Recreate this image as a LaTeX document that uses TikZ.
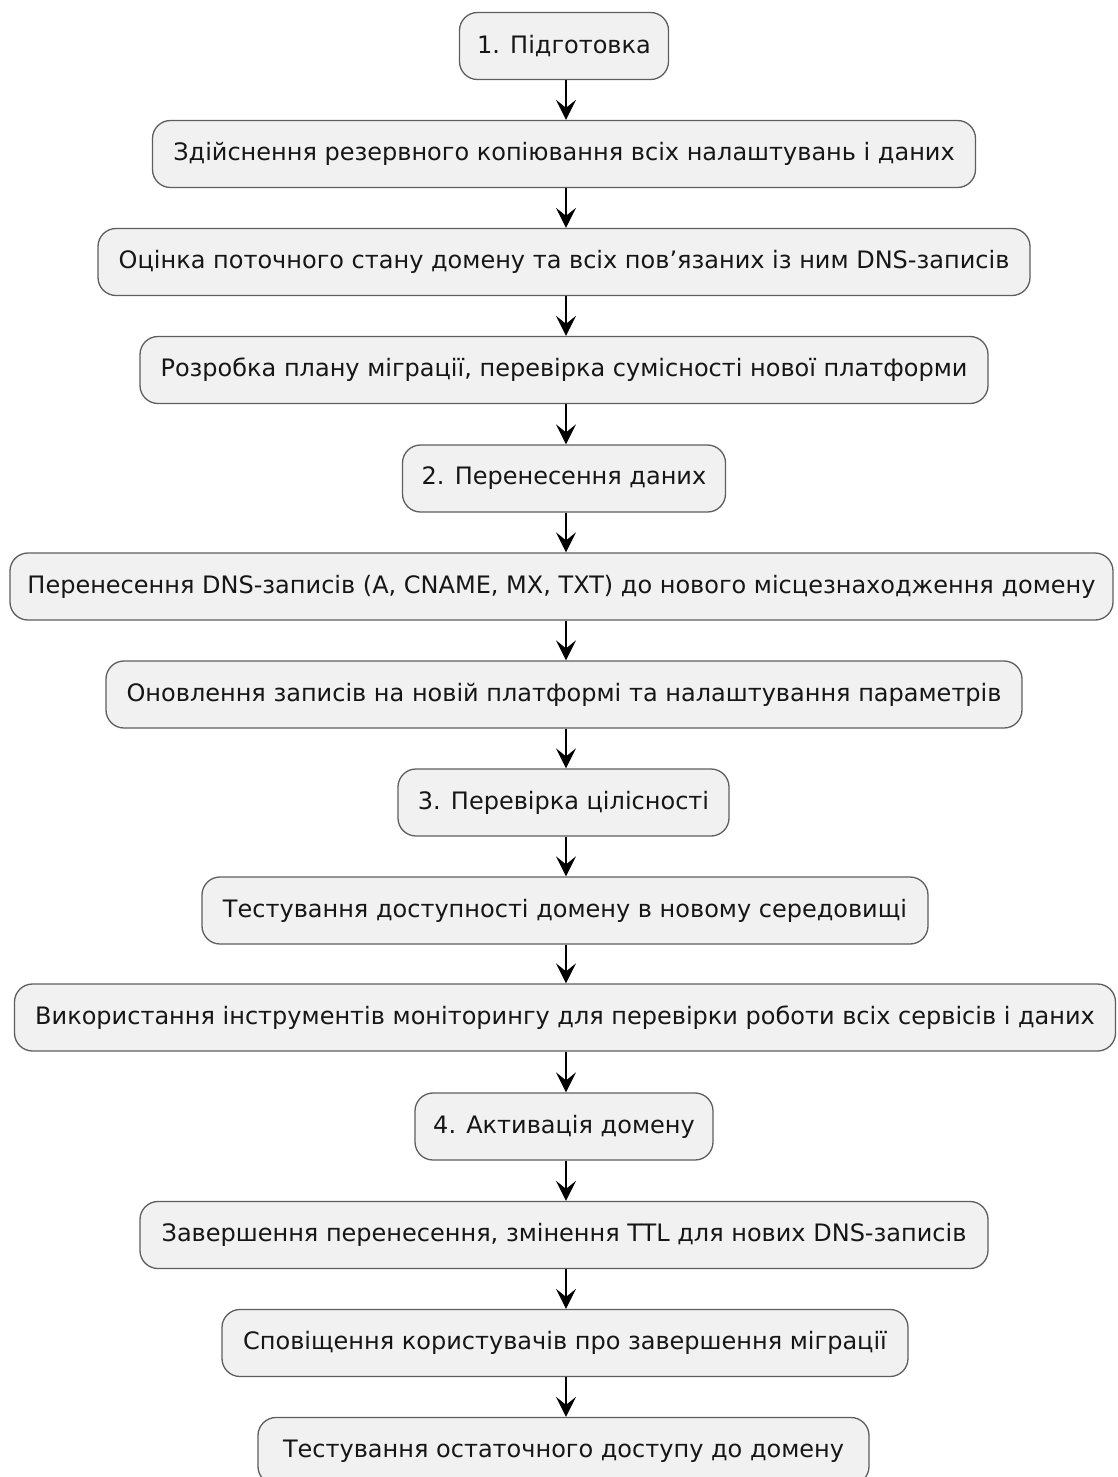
\documentclass[tikz,border=0pt]{standalone}
\usepackage{fontspec}
\setmainfont{DejaVu Sans}
\usetikzlibrary{arrows.meta}
\definecolor{boxfill}{HTML}{F1F1F1}
\definecolor{boxdraw}{HTML}{5E5E5E}
\definecolor{txt}{HTML}{161616}
\tikzset{
  stepbox/.style={draw=boxdraw, line width=1.3pt, fill=boxfill, rounded corners=18pt,
    minimum height=67pt, inner sep=0pt, text=txt, font=\fontsize{24}{27}\selectfont},
  flow/.style={line width=1.6pt, -{Stealth[length=20pt,width=20pt,inset=8pt]}}
}
\begin{document}
\begin{tikzpicture}[x=1pt,y=-1pt]
\useasboundingbox (0,0) rectangle (1117,1477);
\def\cx{564}
\node[stepbox, minimum width=209pt]  (n1)  at (\cx,46)   {1. Підготовка};
\node[stepbox, minimum width=823pt]  (n2)  at (\cx,154)  {Здійснення резервного копіювання всіх налаштувань і даних};
\node[stepbox, minimum width=932pt]  (n3)  at (\cx,262)  {Оцінка поточного стану домену та всіх пов’язаних із ним DNS-записів};
\node[stepbox, minimum width=848pt]  (n4)  at (\cx,370)  {Розробка плану міграції, перевірка сумісності нової платформи};
\node[stepbox, minimum width=323pt]  (n5)  at (\cx,478.5){2. Перенесення даних};
\node[stepbox, minimum width=1103pt] (n6)  at (561.5,586.5){Перенесення DNS-записів (A, CNAME, MX, TXT) до нового місцезнаходження домену};
\node[stepbox, minimum width=916pt]  (n7)  at (\cx,694.5){Оновлення записів на новій платформі та налаштування параметрів};
\node[stepbox, minimum width=331pt]  (n8)  at (563.5,802.5){3. Перевірка цілісності};
\node[stepbox, minimum width=726pt]  (n9)  at (565,910.5){Тестування доступності домену в новому середовищі};
\node[stepbox, minimum width=1101pt] (n10) at (565,1017.5){Використання інструментів моніторингу для перевірки роботи всіх сервісів і даних};
\node[stepbox, minimum width=298pt]  (n11) at (\cx,1126.5){4. Активація домену};
\node[stepbox, minimum width=848pt]  (n12) at (\cx,1235){Завершення перенесення, змінення TTL для нових DNS-записів};
\node[stepbox, minimum width=686pt]  (n13) at (565,1343){Сповіщення користувачів про завершення міграції};
\node[stepbox, minimum width=611pt]  (n14) at (563.5,1451){Тестування остаточного доступу до домену};
\foreach \a/\b in {n1/n2,n2/n3,n3/n4,n4/n5,n5/n6,n6/n7,n7/n8,n8/n9,n9/n10,n10/n11,n11/n12,n12/n13,n13/n14}{
  \draw[flow] (\a.south -| 566,0) -- (\b.north -| 566,0);
}
\end{tikzpicture}
\end{document}
